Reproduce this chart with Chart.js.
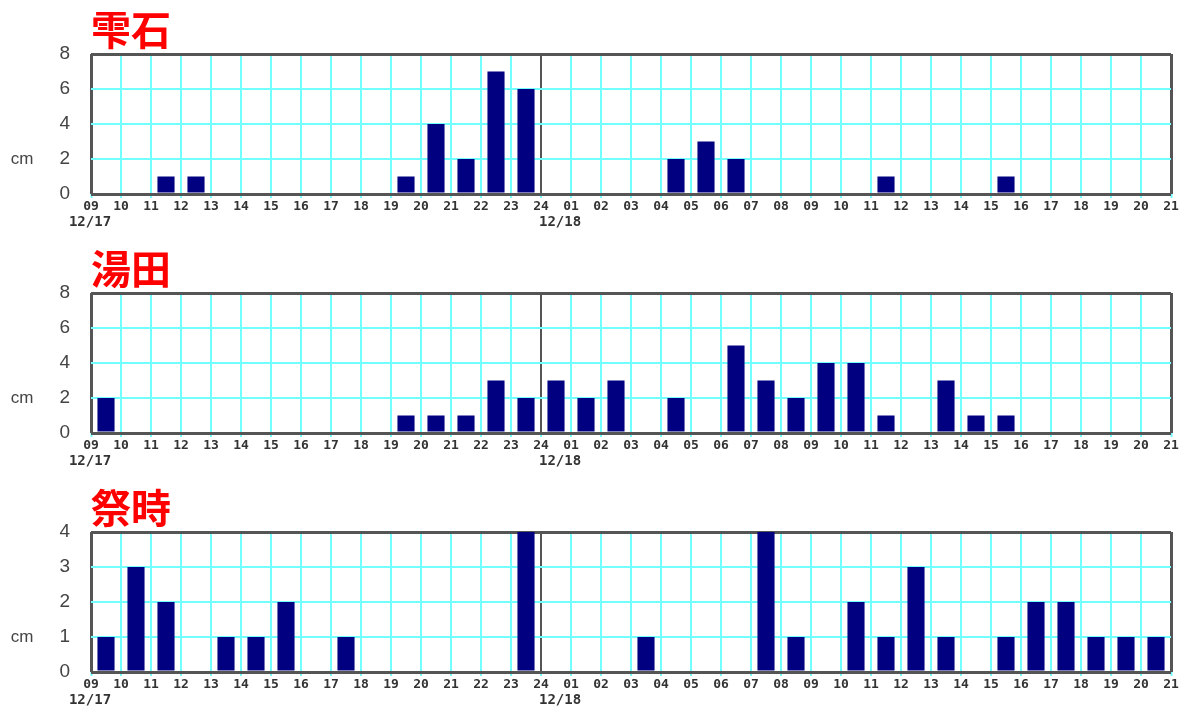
<!DOCTYPE html>
<html>
<head>
<meta charset="utf-8">
<title>降雪量</title>
<style>
  html, body { margin: 0; padding: 0; background: #ffffff; overflow: hidden; }
  .panel { position: absolute; left: 0; width: 1180px; height: 239px; }
  canvas { display: block; }
</style>
<script src="https://cdn.jsdelivr.net/npm/chart.js@4.4.1/dist/chart.umd.min.js"></script>
</head>
<body>
<div class="panel" style="top:0px"><canvas id="p0" width="1180" height="239"></canvas></div>
<div class="panel" style="top:239px"><canvas id="p1" width="1180" height="239"></canvas></div>
<div class="panel" style="top:478px"><canvas id="p2" width="1180" height="239"></canvas></div>
<script>
// Hour boundaries along the time axis (36 hourly intervals, 12/17 09時 - 12/18 21時)
const hourLabels = [
  '09','10','11','12','13','14','15','16','17','18','19','20','21','22','23','24',
  '01','02','03','04','05','06','07','08','09','10','11','12','13','14','15','16',
  '17','18','19','20','21'
];
// Date captions and the boundary index they belong to
const dateLabels = ['12/17', '12/18'];
const dateTicks = [0, 15];
const midnightTick = 15;

// Station names
const stations = ['雫石', '湯田', '祭時'];

// Hourly snowfall (cm), one value per interval, ending at hourLabels[i + 1]
const shizukuishi = [0,0,1,1,0,0,0,0,0,0,1,4,2,7,6,0,0,0,0,2,3,2,0,0,0,0,1,0,0,0,1,0,0,0,0,0];
const yuda        = [2,0,0,0,0,0,0,0,0,0,1,1,1,3,2,3,2,3,0,2,0,5,3,2,4,4,1,0,3,1,1,0,0,0,0,0];
const matsurube   = [1,3,2,0,1,1,2,0,1,0,0,0,0,0,4,0,0,0,1,0,0,0,4,1,0,2,1,3,1,0,1,2,2,1,1,1];

// Y-axis ranges per station
const yMax  = [8, 8, 4];
const yStep = [2, 2, 1];
const unitLabel = 'cm';

const seriesList = [shizukuishi, yuda, matsurube];

const CYAN = '#72ffff';
const FRAME = '#555555';
const BAR = '#000080';

// Draws the unit caption and the date captions under the time axis
const captionPlugin = {
  id: 'captions',
  afterDraw(chart, args, opts) {
    const ctx = chart.ctx;
    const xs = chart.scales.x;
    const ys = chart.scales.y;
    ctx.save();
    ctx.fillStyle = '#444';
    ctx.textBaseline = 'middle';
    ctx.font = '17px "Liberation Sans", Arial, sans-serif';
    ctx.textAlign = 'center';
    ctx.fillText(unitLabel, 22, ys.getPixelForValue(opts.unitAt));
    ctx.font = 'bold 14px "DejaVu Sans Mono", monospace';
    ctx.fillStyle = '#333';
    dateLabels.forEach((d, i) => {
      const px = xs.getPixelForValue(dateTicks[i]);
      if (i === 0) {
        ctx.textAlign = 'center';
        ctx.fillText(d, px - 1, chart.chartArea.bottom + 28);
      } else {
        ctx.textAlign = 'left';
        ctx.fillText(d, px - 2, chart.chartArea.bottom + 28);
      }
    });
    ctx.restore();
  }
};

function frameLine(value, max) {
  return value === 0 || value === max;
}

seriesList.forEach((values, k) => {
  const points = values.map((v, i) => ({ x: i + 0.5, y: v }));
  const last = hourLabels.length - 1;
  new Chart(document.getElementById('p' + k), {
    type: 'bar',
    data: {
      datasets: [{
        data: points,
        backgroundColor: BAR,
        borderWidth: 0,
        categoryPercentage: 1,
        barPercentage: 0.57
      }]
    },
    plugins: [captionPlugin],
    options: {
      responsive: false,
      animation: false,
      events: [],
      layout: { padding: { left: 0, right: 9, top: 0, bottom: 0 } },
      plugins: {
        legend: { display: false },
        tooltip: { enabled: false },
        title: {
          display: true,
          text: stations[k],
          align: 'start',
          fullSize: false,
          color: '#ff0000',
          font: { family: '"Noto Sans CJK JP", sans-serif', size: 40, weight: 'bold', lineHeight: 1 },
          padding: { top: 10, bottom: 4 }
        },
        captions: { unitAt: yStep[k] }
      },
      scales: {
        x: {
          type: 'linear',
          min: 0,
          max: last,
          offset: false,
          afterFit(scale) { scale.height = 45; },
          border: { display: false },
          grid: {
            offset: false,
            drawTicks: true,
            tickLength: 4,
            tickColor: CYAN,
            tickWidth: 2,
            color: (c) => {
              const v = c.tick ? c.tick.value : -1;
              return (frameLine(v, last) || v === midnightTick) ? FRAME : CYAN;
            },
            lineWidth: (c) => {
              const v = c.tick ? c.tick.value : -1;
              if (frameLine(v, last)) return 3;
              return 2;
            }
          },
          ticks: {
            stepSize: 1,
            autoSkip: false,
            maxRotation: 0,
            padding: 1,
            color: '#333',
            font: { family: '"DejaVu Sans Mono", monospace', size: 13, weight: 'bold' },
            callback: (v) => hourLabels[v]
          }
        },
        y: {
          min: 0,
          max: yMax[k],
          afterFit(scale) { scale.width = 91; },
          border: { display: false },
          grid: {
            drawTicks: false,
            color: (c) => frameLine(c.tick ? c.tick.value : -1, yMax[k]) ? FRAME : CYAN,
            lineWidth: (c) => frameLine(c.tick ? c.tick.value : -1, yMax[k]) ? 3 : 2
          },
          ticks: {
            stepSize: yStep[k],
            padding: 21,
            color: '#444',
            font: { family: '"Liberation Sans", Arial, sans-serif', size: 19 }
          }
        }
      }
    }
  });
});
</script>
</body>
</html>
